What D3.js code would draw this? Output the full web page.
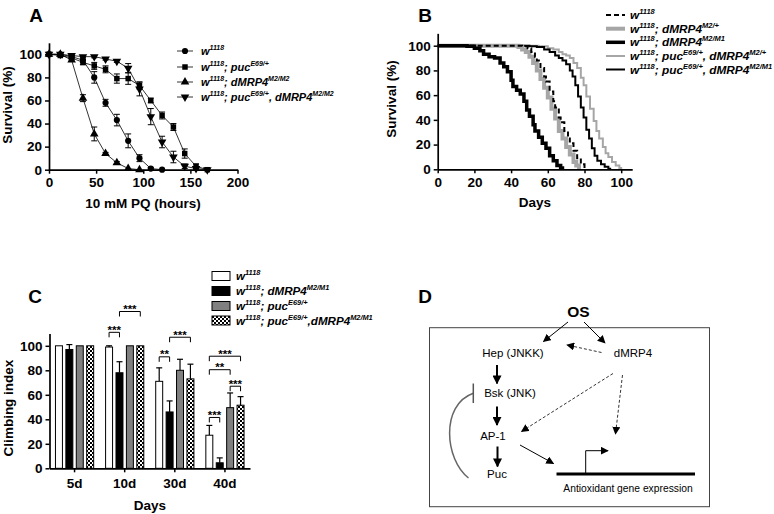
<!DOCTYPE html>
<html><head><meta charset="utf-8">
<script src="https://cdn.jsdelivr.net/npm/d3@7"></script>
<style>body{margin:0;background:#fff}svg{display:block}text{font-family:"Liberation Sans",Arial,Helvetica,sans-serif}</style>
</head><body><svg id="c" width="774" height="514"></svg>
<script>
// ---------- Panel A data (10 mM PQ survival) ----------
const hoursA = [0,12,24,36,48,60,72,84,96,108,120,132,144,156,168];
const survA_w1118      = [100,100,98,95,80,58,43,25,10,1,0,null,null,null,null];
const errA_w1118       = [0,0,1,2,5,3,5,6,3,1,0,null,null,null,null];
const survA_puc        = [100,99,97,93,90,87,79,79,73,60,47,37,14,3,0];
const errA_puc         = [0,1,1,2,3,3,4,5,3,2,3,3,4,2,0];
const survA_mrp        = [100,100,95,62,31,14,6,1,0,null,null,null,null,null,null];
const errA_mrp         = [0,0,1,3,6,1,1,0,0,null,null,null,null,null,null];
const survA_pucMrp     = [100,100,99,98,98,96,94,88,70,46,24,11,3,1,0];
const errA_pucMrp      = [0,0,0,1,1,1,1,4,6,7,5,5,2,1,0];
const ticksA_x = [0,50,100,150,200];
const ticksA_y = [0,20,40,60,80,100];

// ---------- Panel B data (lifespan, Kaplan-Meier) ----------
const daysB_w1118 = [0,40,46,49,51,53,54,56,58,59,61,63,64,66,67,69,71,72,74,76,78,80,81];
const survB_w1118 = [100,100,99.5,98,95,91,88,82,75,71,63,55,50,42,38,31,25,21,15,9,4,1,0];
const daysB_m2p   = [0,38,44,46,48,50,52,54,56,58,60,62,64,66,68,70,72,74,75.5,77];
const survB_m2p   = [100,100,99,97,95,91,86,80,73,66,58,49,41,31,25,18,12,6,3,0];
const daysB_m2m1  = [0,12,16,20,23,25,28,31,34,36,38,40,41,43,45,47,48.5,50,52,53,55,57,59,61,63,65,67,68];
const survB_m2m1  = [100,100,99.5,98,96,93,91,90,86,83,79,72,67,64,61,55,48,43,36,31,26,21,17,11,7,3,1,0];
const daysB_pucM2p  = [0,50,55,60,63,66,68,70,72,74,76,78,79.5,81,83,85,86.5,88,90,91.5,93,95,97,99,100];
const survB_pucM2p  = [100,100,99.5,98,97,95,93,92,90,86,82,74,68,59,49,39,31,25,18,13,10,6,3,1,0];
const daysB_pucM2m1 = [0,45,50,54,58,61,64,66,68,70,72,73.5,75,76.5,78,79.5,81,82.5,84,85.5,87,89,91,93,94];
const survB_pucM2m1 = [100,100,99.5,99,97,95,92,90,88,85,80,75,68,59,50,42,32,25,17,11,7,4,2,0.5,0];
const ticksB_x = [0,20,40,60,80,100];
const ticksB_y = [0,20,40,60,80,100];

// ---------- Panel C data (climbing) ----------
const groupsC = ["5d","10d","30d","40d"];
const genotypesC = ["w1118","m2m1","puc","pucm2m1"];
const climb_w1118   = [100,99,71,27];
const climbErr_w1118= [0,1,11,8];
const climb_m2m1    = [97,78,46,4.5];
const climbErr_m2m1 = [4,9,9,4];
const climb_puc     = [100,100,80,49.5];
const climbErr_puc  = [0,0,9,12];
const climb_pucm2m1 = [100,100,73,51.5];
const climbErr_pucm2m1 = [0,0,12,7];
const ticksC_y = [0,20,40,60,80,100];
// significance brackets: group, from genotype, to genotype, height, label
const sigGroup = ["10d","10d","30d","30d","40d","40d","40d","40d"];
const sigFrom  = [0,1,0,1,0,0,0,2];
const sigTo    = [1,3,1,3,1,3,2,3];
const sigLevel = [111,128,91,107,41.5,91.5,80.5,67];
const sigText  = ["***","***","**","***","***","***","**","***"];

// ---------- Drawing ----------
const svg = d3.select("#c");
const defs = svg.append("defs");
const pat = defs.append("pattern").attr("id","chk").attr("patternUnits","userSpaceOnUse").attr("width",4).attr("height",4);
pat.append("rect").attr("width",4).attr("height",4).attr("fill","#fff");
pat.append("rect").attr("width",2).attr("height",2).attr("fill","#000");
pat.append("rect").attr("x",2).attr("y",2).attr("width",2).attr("height",2).attr("fill","#000");
function mk(id, size){
  defs.append("marker").attr("id",id).attr("viewBox","0 0 10 10").attr("refX",9).attr("refY",5)
    .attr("markerUnits","userSpaceOnUse").attr("markerWidth",size).attr("markerHeight",size).attr("orient","auto")
    .append("path").attr("d","M0,0 L10,5 L0,10 z").attr("fill","#000");
}
mk("ah",9); mk("ahs",8);

function rich(parent, x, y, parts, fs, sfs, opts={}){
  const t = parent.append("text").attr("x",x).attr("y",y).attr("font-size",fs)
     .attr("font-weight",opts.weight||"bold").attr("font-style",opts.style||"italic").attr("fill","#000");
  let up = false;
  parts.forEach(p=>{
    const sup = p[1]===1;
    const ts = t.append("tspan").text(p[0]).attr("font-size", sup?sfs:fs);
    if (sup && !up) { ts.attr("dy", -fs*0.42); up = true; }
    else if (!sup && up) { ts.attr("dy", fs*0.42); up = false; }
  });
  return t;
}
function styleAxis(g){
  g.select(".domain").attr("stroke","#000").attr("stroke-width",1.7);
  g.selectAll(".tick line").attr("stroke","#000").attr("stroke-width",1.5);
  g.selectAll("text").attr("font-size",13.5).attr("font-weight","bold").attr("fill","#000")
    .attr("font-family",'"Liberation Sans",Arial,sans-serif');
}
function label(x,y,t,fs,anchor="middle",rot=0,weight="bold"){
  const e = svg.append("text").attr("x",x).attr("y",y).attr("text-anchor",anchor).attr("font-size",fs)
    .attr("font-weight",weight).attr("fill","#000").text(t);
  if (rot) e.attr("transform",`rotate(${rot},${x},${y})`);
  return e;
}

// ===== Panel A =====
const xA = d3.scaleLinear().domain([0,200]).range([49,237.5]);
const yA = d3.scaleLinear().domain([0,110]).range([169.7,42.8]);
const gA = svg.append("g");
styleAxis(gA.append("g").attr("transform","translate(0,169.7)").call(d3.axisBottom(xA).tickValues(ticksA_x).tickSize(4).tickSizeOuter(0).tickPadding(4)));
styleAxis(gA.append("g").attr("transform","translate(49,0)").call(d3.axisLeft(yA).tickValues(ticksA_y).tickSize(4).tickSizeOuter(0).tickPadding(3)));
const seriesA = [
  {v:survA_w1118, e:errA_w1118, sym:d3.symbolCircle, rot:0, size:30},
  {v:survA_puc, e:errA_puc, sym:d3.symbolSquare, rot:0, size:30},
  {v:survA_mrp, e:errA_mrp, sym:d3.symbolTriangle, rot:0, size:32},
  {v:survA_pucMrp, e:errA_pucMrp, sym:d3.symbolTriangle, rot:180, size:32}
];
const lineA = d3.line().defined(d=>d[1]!==null).x(d=>xA(d[0])).y(d=>yA(d[1]));
seriesA.forEach(s=>{
  const pts = hoursA.map((h,i)=>[h,s.v[i],s.e[i]]).filter(d=>d[1]!==null);
  gA.append("path").datum(pts).attr("d",lineA).attr("fill","none").attr("stroke","#000").attr("stroke-width",0.8);
  pts.filter(d=>d[2]>0).forEach(d=>{
    const x=xA(d[0]), y1=yA(d[1]-d[2]), y2=yA(d[1]+d[2]);
    gA.append("line").attr("x1",x).attr("x2",x).attr("y1",y1).attr("y2",y2).attr("stroke","#000").attr("stroke-width",1);
    [y1,y2].forEach(y=>gA.append("line").attr("x1",x-3).attr("x2",x+3).attr("y1",y).attr("y2",y).attr("stroke","#000").attr("stroke-width",1));
  });
  gA.selectAll(null).data(pts).enter().append("path")
    .attr("d",d3.symbol().type(s.sym).size(s.size))
    .attr("transform",d=>`translate(${xA(d[0])},${yA(d[1])}) rotate(${s.rot})`).attr("fill","#000");
});
// legend A
const legA = [
  [["w"],["1118",1]],
  [["w"],["1118",1],["; puc"],["E69/+",1]],
  [["w"],["1118",1],["; dMRP4"],["M2/M2",1]],
  [["w"],["1118",1],["; puc"],["E69/+",1],[", dMRP4"],["M2/M2",1]]
];
const legAy = [51,67,82,97];
legA.forEach((parts,i)=>{
  const y = legAy[i];
  gA.append("line").attr("x1",177).attr("x2",193).attr("y1",y).attr("y2",y).attr("stroke","#000").attr("stroke-width",0.8);
  gA.append("path").attr("d",d3.symbol().type(seriesA[i].sym).size(seriesA[i].size)())
    .attr("transform",`translate(185,${y}) rotate(${seriesA[i].rot})`).attr("fill","#000");
  rich(gA,201,y+4,parts,11,7);
});
label(36,22,"A",19);
label(12,105,"Survival (%)",13.5,"middle",-90);
label(143,208,"10 mM PQ (hours)",13.5);

// ===== Panel B =====
const xB = d3.scaleLinear().domain([0,106]).range([437.7,437.7+106*1.835]);
const yB = d3.scaleLinear().domain([0,110]).range([169.3,169.3-110*1.236]);
const gB = svg.append("g");
const seriesB = [
  {d:daysB_w1118, s:survB_w1118, col:"#000", w:2, dash:"5,3"},
  {d:daysB_m2p, s:survB_m2p, col:"#a6a6a6", w:4, dash:null},
  {d:daysB_m2m1, s:survB_m2m1, col:"#000", w:3.5, dash:null},
  {d:daysB_pucM2p, s:survB_pucM2p, col:"#a6a6a6", w:2, dash:null},
  {d:daysB_pucM2m1, s:survB_pucM2m1, col:"#000", w:2, dash:null}
];
const lineB = d3.line().curve(d3.curveStepAfter).x(d=>xB(d[0])).y(d=>yB(d[1]));
[3,4,1,0,2].forEach(i=>{
  const s = seriesB[i];
  gB.append("path").datum(s.d.map((d,j)=>[d,s.s[j]])).attr("d",lineB).attr("fill","none")
    .attr("stroke",s.col).attr("stroke-width",s.w).attr("stroke-dasharray",s.dash);
});
styleAxis(gB.append("g").attr("transform","translate(0,169.3)").call(d3.axisBottom(xB).tickValues(ticksB_x).tickSize(4).tickSizeOuter(0).tickPadding(4)));
styleAxis(gB.append("g").attr("transform","translate(437.7,0)").call(d3.axisLeft(yB).tickValues(ticksB_y).tickSize(4).tickSizeOuter(0).tickPadding(3)));
const legB = [
  [["w"],["1118",1]],
  [["w"],["1118",1],["; dMRP4"],["M2/+",1]],
  [["w"],["1118",1],["; dMRP4"],["M2/M1",1]],
  [["w"],["1118",1],["; puc"],["E69/+",1],[", dMRP4"],["M2/+",1]],
  [["w"],["1118",1],["; puc"],["E69/+",1],[", dMRP4"],["M2/M1",1]]
];
const legBy = [15,28.7,42.3,56,69.5];
legB.forEach((parts,i)=>{
  const y = legBy[i], s = seriesB[i];
  gB.append("line").attr("x1",606).attr("x2",625).attr("y1",y).attr("y2",y)
    .attr("stroke",s.col).attr("stroke-width",s.w).attr("stroke-dasharray",s.dash);
  rich(gB,630,y+4,parts,11.8,7.5);
});
label(425,22,"B",19);
label(396,99,"Survival (%)",13.5,"middle",-90);
label(535,207,"Days",13.5);

// ===== Panel C =====
const x0C = d3.scaleBand().domain(groupsC).range([49.5,250]).padding(0);
const x1C = d3.scaleBand().domain(d3.range(4)).range([-19.1,19.1]).paddingInner(0.33);
const yC = d3.scaleLinear().domain([0,110]).range([468.3,468.3-110*1.225]);
const gC = svg.append("g");
const valsC = [climb_w1118, climb_m2m1, climb_puc, climb_pucm2m1];
const errsC = [climbErr_w1118, climbErr_m2m1, climbErr_puc, climbErr_pucm2m1];
const fillsC = ["#fff","#000","#808080","url(#chk)"];
const cx = (g,k)=> x0C(g)+x0C.bandwidth()/2 + x1C(k) + x1C.bandwidth()/2;
groupsC.forEach((g,gi)=>{
  for (let k=0;k<4;k++){
    const v = valsC[k][gi], e = errsC[k][gi];
    const x = x0C(g)+x0C.bandwidth()/2 + x1C(k);
    if (e>0){
      const c = x + x1C.bandwidth()/2;
      gC.append("line").attr("x1",c).attr("x2",c).attr("y1",yC(v)).attr("y2",yC(v+e)).attr("stroke","#000").attr("stroke-width",1.2);
      gC.append("line").attr("x1",c-3).attr("x2",c+3).attr("y1",yC(v+e)).attr("y2",yC(v+e)).attr("stroke","#000").attr("stroke-width",1.2);
    }
    gC.append("rect").attr("x",x).attr("y",yC(v)).attr("width",x1C.bandwidth()).attr("height",yC(0)-yC(v))
      .attr("fill",fillsC[k]).attr("stroke","#000").attr("stroke-width",1);
  }
});
styleAxis(gC.append("g").attr("transform","translate(0,468.3)").call(d3.axisBottom(x0C).tickSize(4).tickSizeOuter(0).tickPadding(6)));
styleAxis(gC.append("g").attr("transform","translate(49.5,0)").call(d3.axisLeft(yC).tickValues(ticksC_y).tickSize(4).tickSizeOuter(0).tickPadding(3)));
sigGroup.forEach((g,i)=>{
  const xa = cx(g,sigFrom[i]), xb = cx(g,sigTo[i]), y = yC(sigLevel[i]);
  gC.append("path").attr("d",`M${xa},${y+5}V${y}H${xb}V${y+5}`).attr("fill","none").attr("stroke","#000").attr("stroke-width",1);
  gC.append("text").attr("x",(xa+xb)/2).attr("y",y+1.5).attr("text-anchor","middle").attr("font-size",11.5)
    .attr("font-weight","bold").attr("fill","#000").text(sigText[i]);
});
const legC = [
  [["w"],["1118",1]],
  [["w"],["1118",1],["; dMRP4"],["M2/M1",1]],
  [["w"],["1118",1],["; puc"],["E69/+",1]],
  [["w"],["1118",1],["; puc"],["E69/+",1],[",dMRP4"],["M2/M1",1]]
];
const legCy = [276,291,306,320.5];
legC.forEach((parts,i)=>{
  const y = legCy[i];
  gC.append("rect").attr("x",212).attr("y",y-4.5).attr("width",18).attr("height",9).attr("fill",fillsC[i]).attr("stroke","#000").attr("stroke-width",1);
  rich(gC,236,y+4,parts,11.6,7.4);
});
label(35,303,"C",19);
label(13,408,"Climbing index",13.5,"middle",-90);
label(150,510,"Days",13.5);

// ===== Panel D (schematic) =====
const gD = svg.append("g");
gD.append("rect").attr("x",429.5).attr("y",327.7).attr("width",280).attr("height",179).attr("fill","none").attr("stroke","#444").attr("stroke-width",1);
label(425,303,"D",19);
label(578.5,317,"OS",15.5);
const nodes = [["Hep (JNKK)",513,357],["dMRP4",633,357],["Bsk (JNK)",510,397],["AP-1",493,439.5],["Puc",497,477.5]];
nodes.forEach(n=>gD.append("text").attr("x",n[1]).attr("y",n[2]).attr("text-anchor","middle").attr("font-size",11.5).attr("fill","#000").text(n[0]));
gD.append("text").attr("x",628).attr("y",492).attr("text-anchor","middle").attr("font-size",10.3).attr("fill","#000").text("Antioxidant gene expression");
function arrow(x1,y1,x2,y2,w,dash,m){
  gD.append("line").attr("x1",x1).attr("y1",y1).attr("x2",x2).attr("y2",y2).attr("stroke","#000")
    .attr("stroke-width",w).attr("stroke-dasharray",dash).attr("marker-end",`url(#${m})`);
}
arrow(568,322,543.5,341.5,1,null,"ahs");
arrow(584,322,605,343,1,null,"ahs");
arrow(601.5,352.5,567,345,0.8,"3,2","ahs");
arrow(497,365,497,383.5,2,null,"ah");
arrow(497,406.5,497,425,2,null,"ah");
arrow(497.5,446.5,497.5,466.5,2,null,"ah");
arrow(613,373.5,521.5,431.5,0.8,"3,2","ahs");
arrow(622.5,375,615.5,434,0.8,"3,2","ahs");
arrow(520,445,553.5,463.5,1,null,"ahs");
// inhibition curve Puc -> Bsk
gD.append("path").attr("d","M468.5,478 C445,460 440,405 473.3,393.3").attr("fill","none").attr("stroke","#666").attr("stroke-width",1.5);
gD.append("line").attr("x1",473.3).attr("x2",473.3).attr("y1",383.5).attr("y2",403).attr("stroke","#555").attr("stroke-width",1.5);
// gene line and promoter
gD.append("line").attr("x1",556.5).attr("x2",695).attr("y1",474).attr("y2",474).attr("stroke","#000").attr("stroke-width",3);
gD.append("path").attr("d","M585.7,474V450.7H608").attr("fill","none").attr("stroke","#000").attr("stroke-width",1).attr("marker-end","url(#ahs)");
</script></body></html>
